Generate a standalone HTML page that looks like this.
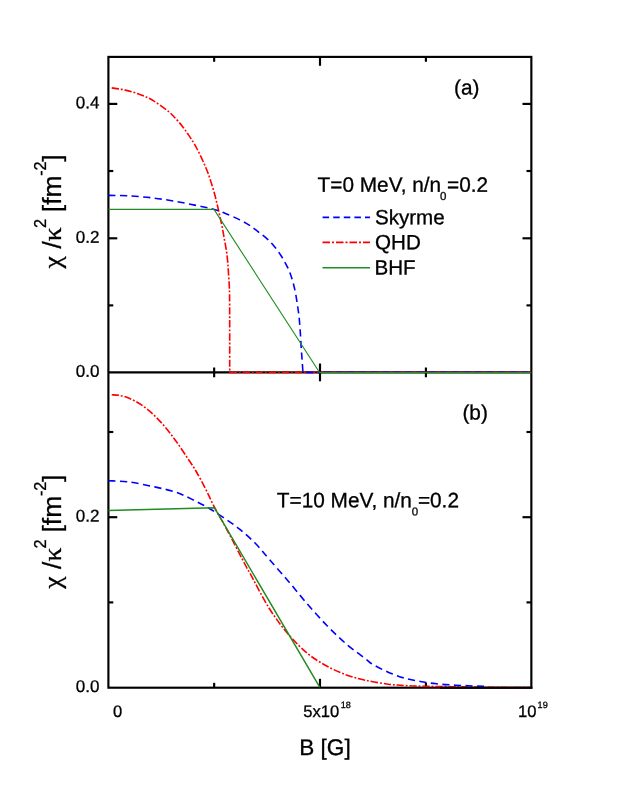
<!DOCTYPE html>
<html><head><meta charset="utf-8"><title>chart</title>
<style>html,body{margin:0;padding:0;background:#fff;}body{width:623px;height:806px;position:relative;overflow:hidden;font-family:"Liberation Sans",sans-serif;}</style></head>
<body>
<svg width="623" height="806" viewBox="0 0 623 806" style="position:absolute;left:0;top:0;will-change:transform">
<rect width="623" height="806" fill="#fff"/>
<g stroke="#000" stroke-width="2.15" fill="none" stroke-linecap="butt">
<rect x="108.40" y="56.90" width="422.95" height="630.80"/>
<line x1="108.40" y1="372.40" x2="531.35" y2="372.40"/>
<line x1="214.15" y1="56.90" x2="214.15" y2="61.77"/>
<line x1="214.15" y1="367.52" x2="214.15" y2="377.27"/>
<line x1="214.15" y1="682.83" x2="214.15" y2="687.70"/>
<line x1="320.00" y1="56.90" x2="320.00" y2="65.78"/>
<line x1="320.00" y1="363.52" x2="320.00" y2="381.27"/>
<line x1="320.00" y1="678.83" x2="320.00" y2="687.70"/>
<line x1="425.90" y1="56.90" x2="425.90" y2="61.77"/>
<line x1="425.90" y1="367.52" x2="425.90" y2="377.27"/>
<line x1="425.90" y1="682.83" x2="425.90" y2="687.70"/>
<line x1="108.40" y1="103.90" x2="117.28" y2="103.90"/>
<line x1="522.48" y1="103.90" x2="531.35" y2="103.90"/>
<line x1="108.40" y1="171.00" x2="113.28" y2="171.00"/>
<line x1="526.48" y1="171.00" x2="531.35" y2="171.00"/>
<line x1="108.40" y1="238.30" x2="117.28" y2="238.30"/>
<line x1="522.48" y1="238.30" x2="531.35" y2="238.30"/>
<line x1="108.40" y1="305.40" x2="113.28" y2="305.40"/>
<line x1="526.48" y1="305.40" x2="531.35" y2="305.40"/>
<line x1="108.40" y1="432.00" x2="113.28" y2="432.00"/>
<line x1="526.48" y1="432.00" x2="531.35" y2="432.00"/>
<line x1="108.40" y1="517.20" x2="117.28" y2="517.20"/>
<line x1="522.48" y1="517.20" x2="531.35" y2="517.20"/>
<line x1="108.40" y1="602.40" x2="113.28" y2="602.40"/>
<line x1="526.48" y1="602.40" x2="531.35" y2="602.40"/>
</g>
<g fill="none" stroke-linejoin="round">
<path d="M111.70 87.90 C112.83 88.07 116.25 88.53 118.50 88.90 C120.75 89.27 122.95 89.62 125.20 90.10 C127.45 90.58 129.75 91.15 132.00 91.80 C134.25 92.45 136.45 93.20 138.70 94.00 C140.95 94.80 143.25 95.60 145.50 96.60 C147.75 97.60 149.73 98.53 152.20 100.00 C154.67 101.47 157.45 103.38 160.30 105.40 C163.15 107.42 166.95 110.13 169.30 112.10 C171.65 114.07 172.27 114.90 174.40 117.20 C176.53 119.50 179.75 122.95 182.10 125.90 C184.45 128.85 186.47 131.90 188.50 134.90 C190.53 137.90 192.48 140.80 194.30 143.90 C196.12 147.00 197.80 150.28 199.40 153.50 C201.00 156.72 202.53 160.12 203.90 163.20 C205.27 166.28 206.42 168.88 207.60 172.00 C208.78 175.12 209.83 178.23 211.00 181.90 C212.17 185.57 213.50 189.93 214.60 194.00 C215.70 198.07 216.70 202.50 217.60 206.30 C218.50 210.10 219.20 213.17 220.00 216.80 C220.80 220.43 221.67 224.33 222.40 228.10 C223.13 231.87 223.73 235.65 224.40 239.40 C225.07 243.15 225.85 246.85 226.40 250.60 C226.95 254.35 227.35 258.13 227.70 261.90 C228.05 265.67 228.23 269.17 228.50 273.20 C228.77 277.23 229.12 281.80 229.30 286.10 C229.48 290.40 229.53 291.68 229.60 299.00 C229.67 306.32 229.68 317.77 229.70 330.00 C229.72 342.23 229.70 365.33 229.70 372.40 L320 372.4" stroke="#ff0000" stroke-width="1.6" stroke-dasharray="7.3 1.9 1.9 1.9"/>
<path d="M108.40 195.40 C111.85 195.48 121.63 195.47 129.10 195.90 C136.57 196.33 145.18 197.03 153.20 198.00 C161.22 198.97 169.18 200.28 177.20 201.70 C185.22 203.12 195.27 205.23 201.30 206.50 C207.33 207.77 209.38 208.15 213.40 209.30 C217.42 210.45 221.00 211.63 225.40 213.40 C229.80 215.17 235.77 217.90 239.80 219.90 C243.83 221.90 246.57 223.45 249.60 225.40 C252.63 227.35 254.90 229.20 258.00 231.60 C261.10 234.00 265.00 236.72 268.20 239.80 C271.40 242.88 274.52 246.55 277.20 250.10 C279.88 253.65 282.27 257.55 284.30 261.10 C286.33 264.65 287.97 267.93 289.40 271.40 C290.83 274.87 291.87 278.22 292.90 281.90 C293.93 285.58 294.83 289.57 295.60 293.50 C296.37 297.43 296.93 301.73 297.50 305.50 C298.07 309.27 298.60 312.58 299.00 316.10 C299.40 319.62 299.63 323.08 299.90 326.60 C300.17 330.12 300.38 333.68 300.60 337.20 C300.82 340.72 300.97 344.18 301.20 347.70 C301.43 351.22 301.75 354.78 302.00 358.30 C302.25 361.82 302.55 366.45 302.70 368.80 C302.85 371.15 302.87 371.80 302.90 372.40 L320 372.4" stroke="#0000ff" stroke-width="1.6" stroke-dasharray="7.2 4.4"/>
<path d="M320 372.1 L531.3 372.1" stroke="#ff0000" stroke-width="1.0" stroke-dasharray="7.3 1.9 1.9 1.9"/>
<path d="M324 372.1 L531.3 372.1" stroke="#0000ff" stroke-width="1.0" stroke-dasharray="7.2 4.4"/>
<path d="M108.40 209.40 L214.00 209.40 L319.60 372.50" stroke="#228b22" stroke-width="1.1"/>
<path d="M319.30 372.65 L531.30 372.65" stroke="#228b22" stroke-width="1.3"/>
<path d="M111.70 394.80 C112.98 394.90 116.50 394.83 119.40 395.40 C122.30 395.97 125.48 396.65 129.10 398.20 C132.72 399.75 137.08 402.00 141.10 404.70 C145.12 407.40 149.18 410.67 153.20 414.40 C157.22 418.13 161.20 422.37 165.20 427.10 C169.20 431.83 173.18 437.18 177.20 442.80 C181.22 448.42 186.18 456.10 189.30 460.80 C192.42 465.50 193.20 466.33 195.90 471.00 C198.60 475.67 202.43 482.82 205.50 488.80 C208.57 494.78 210.70 500.03 214.30 506.90 C217.90 513.77 221.88 520.23 227.10 530.00 C232.32 539.77 241.78 558.28 245.60 565.50 C249.42 572.72 246.05 566.13 250.00 573.30 C253.95 580.47 262.88 598.32 269.30 608.50 C275.72 618.68 282.08 626.87 288.50 634.40 C294.92 641.93 301.37 648.40 307.80 653.70 C314.23 659.00 320.68 662.67 327.10 666.20 C333.52 669.73 339.88 672.55 346.30 674.90 C352.72 677.25 358.62 678.75 365.60 680.30 C372.58 681.85 381.77 683.33 388.20 684.20 C394.63 685.07 398.85 685.17 404.20 685.50 C409.55 685.83 413.50 686.02 420.30 686.20 C427.10 686.38 436.72 686.47 445.00 686.60 C453.28 686.73 460.83 686.87 470.00 687.00 C479.17 687.13 489.83 687.30 500.00 687.40 C510.17 687.50 525.83 687.57 531.00 687.60" stroke="#ff0000" stroke-width="1.6" stroke-dasharray="7.3 1.9 1.9 1.9"/>
<path d="M108.40 480.70 C111.85 480.92 121.63 481.02 129.10 482.00 C136.57 482.98 145.55 484.95 153.20 486.60 C160.85 488.25 168.68 489.85 175.00 491.90 C181.32 493.95 185.75 496.35 191.10 498.90 C196.45 501.45 201.75 504.12 207.10 507.20 C212.45 510.28 217.85 513.80 223.20 517.40 C228.55 521.00 233.85 524.48 239.20 528.80 C244.55 533.12 250.28 538.22 255.30 543.30 C260.32 548.38 263.77 552.95 269.30 559.30 C274.83 565.65 282.08 573.87 288.50 581.40 C294.92 588.93 301.37 597.12 307.80 604.50 C314.23 611.88 320.68 619.12 327.10 625.70 C333.52 632.28 339.88 638.48 346.30 644.00 C352.72 649.52 361.30 655.47 365.60 658.80 C369.90 662.13 368.33 661.77 372.10 664.00 C375.87 666.23 382.85 669.87 388.20 672.20 C393.55 674.53 398.85 676.45 404.20 678.00 C409.55 679.55 414.95 680.53 420.30 681.50 C425.65 682.47 430.95 683.22 436.30 683.80 C441.65 684.38 447.05 684.67 452.40 685.00 C457.75 685.33 463.13 685.57 468.40 685.80 C473.67 686.03 481.40 686.30 484.00 686.40" stroke="#0000ff" stroke-width="1.6" stroke-dasharray="7.2 4.4"/>
<path d="M108.40 510.50 L214.40 507.70 L319.70 687.20" stroke="#228b22" stroke-width="1.5"/>
<g stroke="#000" stroke-width="2.15" stroke-linecap="butt">
<line x1="440.00" y1="687.70" x2="532.43" y2="687.70"/>
</g>
<line x1="322.6" y1="217.35" x2="370" y2="217.35" stroke="#0000ff" stroke-width="1.6" stroke-dasharray="6.5 4.1"/>
<line x1="322.5" y1="242.4" x2="370" y2="242.4" stroke="#ff0000" stroke-width="1.6" stroke-dasharray="7.5 2 2 2"/>
<line x1="322.5" y1="267.7" x2="370" y2="267.7" stroke="#228b22" stroke-width="1.5"/>
</g>
<g font-family="'Liberation Sans', sans-serif" fill="#000" stroke="#000" stroke-width="0.3">
<text transform="translate(99.50 108.30) rotate(0.03)" font-size="17.00" text-anchor="end" >0.4</text>
<text transform="translate(99.50 242.70) rotate(0.03)" font-size="17.00" text-anchor="end" >0.2</text>
<text transform="translate(99.50 376.80) rotate(0.03)" font-size="17.00" text-anchor="end" >0.0</text>
<text transform="translate(99.50 521.60) rotate(0.03)" font-size="17.00" text-anchor="end" >0.2</text>
<text transform="translate(99.50 692.00) rotate(0.03)" font-size="17.00" text-anchor="end" >0.0</text>
<text transform="translate(113.10 717.00) rotate(0.03)" font-size="16.60" text-anchor="start" >0</text>
<text transform="translate(303.30 717.00) rotate(0.03)" font-size="16.60" text-anchor="start" >5x10</text>
<text transform="translate(340.80 707.90) rotate(0.03)" font-size="9.10" text-anchor="start" >18</text>
<text transform="translate(518.10 716.90) rotate(0.03)" font-size="16.60" text-anchor="start" >10</text>
<text transform="translate(537.60 707.90) rotate(0.03)" font-size="9.10" text-anchor="start" >19</text>
<text transform="translate(299.20 755.00) rotate(0.03)" font-size="22.60" text-anchor="start" >B [G]</text>
<text transform="translate(454.00 94.60) rotate(0.03)" font-size="20.80" text-anchor="start" >(a)</text>
<text transform="translate(462.40 419.60) rotate(0.03)" font-size="20.80" text-anchor="start" >(b)</text>
<text transform="translate(317.60 191.80) rotate(0.03)" font-size="20.80" text-anchor="start" >T=0 MeV, n/n</text>
<text transform="translate(440.10 200.00) rotate(0.03)" font-size="11.50" text-anchor="start" >0</text>
<text transform="translate(447.00 191.80) rotate(0.03)" font-size="20.80" text-anchor="start" >=0.2</text>
<text transform="translate(276.80 507.20) rotate(0.03)" font-size="20.80" text-anchor="start" >T=10 MeV, n/n</text>
<text transform="translate(411.80 515.40) rotate(0.03)" font-size="11.50" text-anchor="start" >0</text>
<text transform="translate(417.90 507.20) rotate(0.03)" font-size="20.80" text-anchor="start" >=0.2</text>
<text transform="translate(374.90 224.30) rotate(0.03)" font-size="20.60" text-anchor="start" >Skyrme</text>
<text transform="translate(375.00 249.30) rotate(0.03)" font-size="20.60" text-anchor="start" >QHD</text>
<text transform="translate(374.50 274.40) rotate(0.03)" font-size="20.60" text-anchor="start" >BHF</text>
<g transform="translate(61 268.40) rotate(-90)">
<g font-family="'Liberation Serif', serif">
<text x="0.00" y="0.00" font-size="25.50" text-anchor="start" textLength="12.3" lengthAdjust="spacingAndGlyphs">χ</text>
<text x="27.20" y="0.00" font-size="25.50" text-anchor="start" textLength="13.9" lengthAdjust="spacingAndGlyphs">κ</text>
</g>
<text x="19.80" y="0.00" font-size="26.50" text-anchor="start" >/</text>
<text x="40.30" y="-15.00" font-size="16.30" text-anchor="start" >2</text>
<text x="56.20" y="0.00" font-size="26.50" text-anchor="start" >[fm</text>
<text x="92.60" y="-15.00" font-size="16.30" text-anchor="start" >-2</text>
<text x="106.70" y="0.00" font-size="26.50" text-anchor="start" >]</text>
</g>
<g transform="translate(61 588.70) rotate(-90)">
<g font-family="'Liberation Serif', serif">
<text x="0.00" y="0.00" font-size="25.50" text-anchor="start" textLength="12.3" lengthAdjust="spacingAndGlyphs">χ</text>
<text x="27.20" y="0.00" font-size="25.50" text-anchor="start" textLength="13.9" lengthAdjust="spacingAndGlyphs">κ</text>
</g>
<text x="19.80" y="0.00" font-size="26.50" text-anchor="start" >/</text>
<text x="40.30" y="-15.00" font-size="16.30" text-anchor="start" >2</text>
<text x="56.20" y="0.00" font-size="26.50" text-anchor="start" >[fm</text>
<text x="92.60" y="-15.00" font-size="16.30" text-anchor="start" >-2</text>
<text x="106.70" y="0.00" font-size="26.50" text-anchor="start" >]</text>
</g>
</g>
</svg>
</body></html>
